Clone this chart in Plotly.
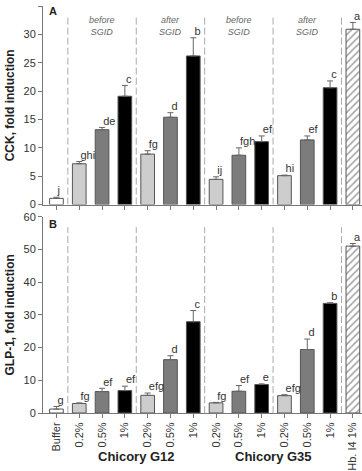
import plotly.graph_objects as go

# ---- data ----
tick_labels = ["Buffer", "0.2%", "0.5%", "1%", "0.2%", "0.5%", "1%",
               "0.2%", "0.5%", "1%", "0.2%", "0.5%", "1%", "Hb. I4 1%"]
dose = ["buffer", "0.2", "0.5", "1", "0.2", "0.5", "1",
        "0.2", "0.5", "1", "0.2", "0.5", "1", "hb"]

cck = [1.1, 7.2, 13.2, 19.1, 8.9, 15.4, 26.2, 4.45, 8.7, 11.1, 5.1, 11.4, 20.6, 30.9]
cck_err = [0.2, 0.4, 0.4, 1.9, 0.6, 0.8, 3.2, 0.45, 1.3, 1.0, 0.1, 0.7, 1.2, 1.2]
cck_letters = ["j", "ghi", "de", "c", "fg", "d", "b", "ij", "fgh", "ef", "hi", "ef", "c", "a"]

glp = [1.2, 2.9, 6.55, 6.85, 5.4, 16.3, 27.9, 3.1, 6.65, 8.7, 5.3, 19.4, 33.5, 51.0]
glp_err = [0.8, 0.2, 1.0, 1.35, 0.7, 1.2, 3.4, 0.15, 1.75, 0.2, 0.3, 3.2, 0.2, 0.8]
glp_letters = ["g", "fg", "ef", "ef", "efg", "d", "c", "fg", "ef", "e", "efg", "d", "b", "a"]

sgid_labels = ["before<br>SGID", "after<br>SGID", "before<br>SGID", "after<br>SGID"]
sgid_centers = [2, 5, 8, 11]
separators = [0.5, 3.5, 6.5, 9.5, 12.5]
groups = ["Chicory G12", "Chicory G35"]
group_centers = [3.5, 9.5]

# ---- styles ----
FONT = "Arial, Liberation Sans, sans-serif"
color_map = {"buffer": "#ffffff", "0.2": "#cdcdcd", "0.5": "#7c7c7c", "1": "#000000", "hb": "#ffffff"}
pattern_map = {"buffer": "", "0.2": "", "0.5": "", "1": "", "hb": "/"}
xs = list(range(len(tick_labels)))
colors = [color_map[d] for d in dose]
patterns = [pattern_map[d] for d in dose]

fig = go.Figure()

def add_panel(vals, errs, letters, xa, ya):
    fig.add_trace(go.Bar(
        x=xs, y=vals, width=0.6, xaxis=xa, yaxis=ya,
        marker=dict(color=colors, line=dict(color="#555555", width=1),
                    pattern=dict(shape=patterns, fgcolor="#555555", size=5, solidity=0.3)),
        error_y=dict(type="data", symmetric=False, array=errs, arrayminus=[0] * len(errs),
                     color="#666666", thickness=1, width=3),
        showlegend=False, hoverinfo="skip"))
    fig.add_trace(go.Scatter(
        x=[x + 0.05 for x in xs], y=[v + e for v, e in zip(vals, errs)], mode="text",
        text=letters, textposition="top right", xaxis=xa, yaxis=ya,
        textfont=dict(family=FONT, size=11, color="#333333"),
        showlegend=False, hoverinfo="skip", cliponaxis=False))

add_panel(cck, cck_err, cck_letters, "x", "y")
add_panel(glp, glp_err, glp_letters, "x2", "y2")

axis_common = dict(showline=True, linecolor="#777777", linewidth=1, ticks="outside",
                   ticklen=4, tickcolor="#777777", showgrid=False, zeroline=False,
                   tickfont=dict(family=FONT, size=11, color="#333333"))

fig.update_layout(
    width=362, height=471, plot_bgcolor="white", paper_bgcolor="white",
    margin=dict(l=43, r=0, t=5, b=52),
    xaxis=dict(domain=[0, 1], anchor="y", range=[-0.59, 13.4], tickvals=xs,
               showticklabels=False, **{k: v for k, v in axis_common.items() if k != "tickfont"}),
    yaxis=dict(domain=[0.512, 1], anchor="x", range=[0, 35], dtick=5,
               title=dict(text="<b>CCK, fold induction</b>", standoff=6,
                          font=dict(family=FONT, size=12, color="#222222")),
               **axis_common),
    xaxis2=dict(domain=[0, 1], anchor="y2", range=[-0.59, 13.4], tickvals=xs,
                ticktext=tick_labels, tickangle=-90, **axis_common),
    yaxis2=dict(domain=[0, 0.4824], anchor="x2", range=[0, 60], dtick=10,
                title=dict(text="<b>GLP-1, fold induction</b>", standoff=6,
                           font=dict(family=FONT, size=12, color="#222222")),
                **axis_common),
    bargap=0.4,
)

shapes = []
for s in separators:
    shapes.append(dict(type="line", xref="x", yref="y", x0=s, x1=s, y0=0, y1=33.1,
                       line=dict(color="#aaaaaa", width=1, dash="7px,3px"), layer="below"))
    shapes.append(dict(type="line", xref="x2", yref="y2", x0=s, x1=s, y0=0, y1=56.8,
                       line=dict(color="#aaaaaa", width=1, dash="7px,3px"), layer="below"))
fig.update_layout(shapes=shapes)

annotations = []
for c, t in zip(sgid_centers, sgid_labels):
    annotations.append(dict(x=c, y=31.4, xref="x", yref="y", text="<i>" + t + "</i>",
                            showarrow=False, font=dict(family=FONT, size=9, color="#666666")))
annotations.append(dict(x=-0.15, y=34.2, xref="x", yref="y", text="<b>A</b>", showarrow=False,
                        font=dict(family=FONT, size=11, color="#222222")))
annotations.append(dict(x=-0.15, y=57.8, xref="x2", yref="y2", text="<b>B</b>", showarrow=False,
                        font=dict(family=FONT, size=11, color="#222222")))
for c, g in zip(group_centers, groups):
    annotations.append(dict(x=c, y=-0.107, xref="x2", yref="paper", text="<b>" + g + "</b>",
                            showarrow=False, yanchor="middle",
                            font=dict(family=FONT, size=13, color="#222222")))
fig.update_layout(annotations=annotations)

fig.write_html("out.html")
